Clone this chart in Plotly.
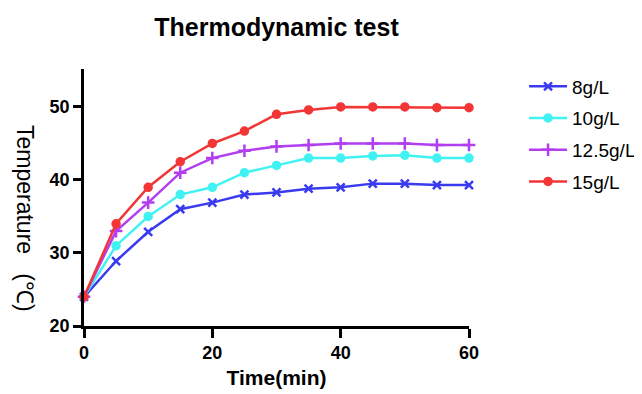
import plotly.graph_objects as go

time_min = [0, 5, 10, 15, 20, 25, 30, 35, 40, 45, 50, 55, 60]
s_8 = [24.0, 28.9, 32.9, 36.0, 36.9, 38.0, 38.3, 38.8, 39.0, 39.5, 39.5, 39.3, 39.3]
s_10 = [24.0, 31.0, 35.0, 38.0, 39.0, 41.0, 42.0, 43.0, 43.0, 43.3, 43.4, 43.0, 43.0]
s_12_5 = [24.0, 33.0, 36.9, 41.0, 43.0, 44.0, 44.6, 44.8, 45.0, 45.0, 45.0, 44.8, 44.8]
s_15 = [24.0, 34.0, 39.0, 42.5, 45.0, 46.7, 49.0, 49.6, 50.0, 50.0, 50.0, 49.9, 49.9]

names = ["8g/L", "10g/L", "12.5g/L", "15g/L"]
series = [s_8, s_10, s_12_5, s_15]
colors = ["#3a3af0", "#40f2f2", "#b23ef0", "#f23636"]
symbols = ["x-thin", "circle", "cross-thin", "circle"]
sizes = [8, 7, 9, 7]

FONT = "Arial, Liberation Sans, sans-serif"

# page body has an 8px default margin, so the figure is drawn 8px smaller
W, H = 634, 386
L, T, PW, PH = 76, 61, 385, 257

fig = go.Figure()
for n, s, c, sym, sz in zip(names, series, colors, symbols, sizes):
    fig.add_trace(go.Scatter(
        x=time_min, y=s, name=n, mode="lines+markers",
        line=dict(color=c, width=2.5),
        marker=dict(symbol=sym, size=sz, color=c, line=dict(color=c, width=2.5)),
        cliponaxis=False, legendgroup=n,
    ))

fig.update_layout(
    width=W, height=H,
    margin=dict(l=L, r=W - L - PW, t=T, b=H - T - PH, autoexpand=False),
    paper_bgcolor="white", plot_bgcolor="white",
    font=dict(family=FONT, color="black"),
    title=dict(text="<b>Thermodynamic test</b>", x=(L + PW / 2) / W, xanchor="center",
               y=1 - 19 / H, yanchor="middle", font=dict(size=25)),
    showlegend=True,
    legend=dict(x=1.143, y=1.006, xanchor="left", yanchor="top", itemwidth=38,
                font=dict(size=19), tracegroupgap=4, bgcolor="rgba(0,0,0,0)"),
)
fig.update_xaxes(range=[0, 60], tickvals=[0, 20, 40, 60], showline=True, linecolor="black",
                 linewidth=2.5, ticks="outside", ticklen=9, tickwidth=2.5, tickcolor="black",
                 showgrid=False, zeroline=False, automargin=False,
                 tickfont=dict(size=18, weight="bold"),
                 title=dict(text="<b>Time(min)</b>", font=dict(size=21), standoff=8))
fig.update_yaxes(range=[20, 55.2], tickvals=[20, 30, 40, 50], showline=True, linecolor="black",
                 linewidth=2.5, ticks="outside", ticklen=8, tickwidth=2.5, tickcolor="black",
                 showgrid=False, zeroline=False, automargin=False,
                 tickfont=dict(size=18, weight="bold"))
fig.add_annotation(text="Temperature   (℃)", textangle=90, xref="paper", yref="paper",
                   x=(17 - L) / PW, y=(T + PH - 210) / PH, xanchor="center", yanchor="middle",
                   showarrow=False, font=dict(size=23))

fig.write_html("out.html")
